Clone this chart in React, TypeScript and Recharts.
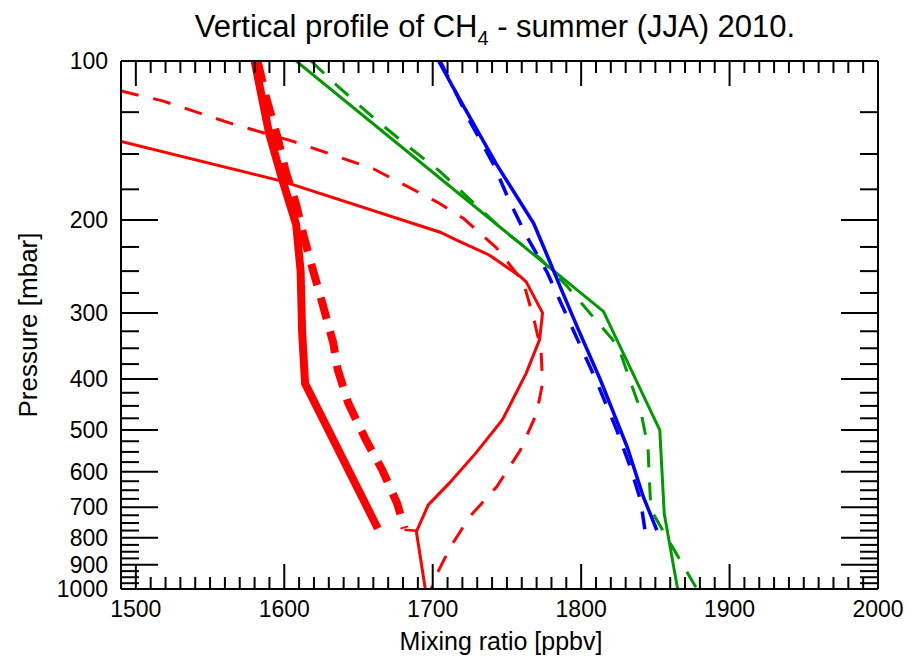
import { LineChart, Line, XAxis, YAxis } from 'recharts'

const FONT = '"Liberation Sans", Arial, Helvetica, sans-serif'
const RED = '#ff0000'
const GREEN = '#009a00'
const BLUE = '#0000ff'

// mixing ratio [ppbv] (x) against pressure [mbar] (p)
const thickSolidP = [100, 138, 169, 204, 250, 325, 408, 768]
const thickSolidX = [1580, 1590, 1599, 1608, 1611, 1612, 1614, 1663]

const thickDashP = [100, 118, 138, 162, 187, 214, 247, 290, 342, 384, 444, 522, 595, 688, 768]
const thickDashX = [1582, 1588, 1595, 1601, 1608, 1613, 1619, 1626, 1633, 1636, 1643, 1655, 1666, 1676, 1681]

const bridgeP = [772, 776]
const bridgeX = [1681, 1689]

const thinSolidP = [142, 169, 211, 217, 233, 256, 262, 300, 337, 390, 478, 553, 631, 693, 779, 1000]
const thinSolidX = [1490, 1599, 1705, 1714, 1738, 1759, 1763, 1774, 1772, 1763, 1747, 1729, 1711, 1697, 1689, 1695]

const thinDashP = [114, 119, 131, 142, 160, 185, 199, 226, 262, 307, 353, 408, 465, 546, 641, 729, 832, 934, 1000]
const thinDashX = [1490, 1518, 1563, 1606, 1660, 1703, 1721, 1743, 1761, 1768, 1773, 1774, 1770, 1759, 1743, 1725, 1712, 1703, 1699]

const blueSolidP = [100, 118, 157, 203, 233, 268, 322, 402, 538, 670, 774]
const blueSolidX = [1704, 1718, 1743, 1768, 1777, 1786, 1798, 1813, 1831, 1842, 1851]

const blueDashP = [100, 130, 157, 185, 214, 251, 294, 402, 500, 586, 679, 774]
const blueDashX = [1705, 1725, 1741, 1752, 1763, 1777, 1788, 1810, 1824, 1833, 1840, 1843]

const greenSolidP = [100, 298, 500, 720, 1000]
const greenSolidX = [1608, 1815, 1853, 1856, 1865]

const greenDashP = [100, 111, 128, 144, 162, 185, 211, 236, 266, 347, 396, 458, 538, 622, 708, 1000]
const greenDashX = [1618, 1635, 1660, 1682, 1705, 1727, 1749, 1772, 1790, 1825, 1832, 1840, 1845, 1846, 1847, 1878]

const xMajor = [1500, 1600, 1700, 1800, 1900, 2000]
const yMajor = [100, 200, 300, 400, 500, 600, 700, 800, 900, 1000]

const xTicks: number[] = []
xMajor.forEach((v, i) => {
  xTicks.push(v)
  if (i < xMajor.length - 1) for (let k = 1; k < 10; k++) xTicks.push(v + k * 10)
})
const yTicks: number[] = []
yMajor.forEach((v, i) => {
  yTicks.push(v)
  if (i < yMajor.length - 1) for (let k = 1; k < 4; k++) yTicks.push(v + k * 25)
})

const rows = (xs: number[], ps: number[]) => xs.map((x, i) => ({ x, p: ps[i] }))

const isMajor = (v: number) => Math.abs(v % 100) < 1e-6

const bottomTick = ({ x, y, payload }: any) => {
  const major = isMajor(payload.value)
  return (
    <g>
      <line x1={x} y1={y} x2={x} y2={y - (major ? 25 : 12)} stroke="#000" strokeWidth={2} />
      {major && (
        <text x={x} y={y + 20} textAnchor="middle" dominantBaseline="central" fontSize={23} fontFamily={FONT} fill="#000">
          {payload.value}
        </text>
      )}
    </g>
  )
}

const topTick = ({ x, y, payload }: any) => {
  const major = isMajor(payload.value)
  return <line x1={x} y1={y} x2={x} y2={y + (major ? 25 : 12)} stroke="#000" strokeWidth={2} />
}

const leftTick = ({ x, y, payload }: any) => {
  const major = isMajor(payload.value)
  return (
    <g>
      <line x1={x} y1={y} x2={x + (major ? 37 : 18)} y2={y} stroke="#000" strokeWidth={2} />
      {major && (
        <text x={x - 13} y={y} textAnchor="end" dominantBaseline="central" fontSize={23} fontFamily={FONT} fill="#000">
          {payload.value}
        </text>
      )}
    </g>
  )
}

const rightTick = ({ x, y, payload }: any) => {
  const major = isMajor(payload.value)
  return <line x1={x} y1={y} x2={x - (major ? 37 : 18)} y2={y} stroke="#000" strokeWidth={2} />
}

const axisLine = { stroke: '#000', strokeWidth: 2 }

export default function App() {
  return (
    <div style={{ position: 'absolute', left: 0, top: 0, width: 910, height: 660, background: '#fff' }}>
      <LineChart width={910} height={660} margin={{ top: 51, right: 22, bottom: 21, left: 61 }}>
        <XAxis
          xAxisId="b"
          type="number"
          dataKey="x"
          domain={[1490, 2000]}
          allowDataOverflow
          ticks={xTicks}
          interval={0}
          tick={bottomTick}
          tickLine={false}
          tickSize={0}
          tickMargin={0}
          axisLine={axisLine}
          height={50}
        />
        <XAxis
          xAxisId="t"
          orientation="top"
          type="number"
          dataKey="x"
          domain={[1490, 2000]}
          allowDataOverflow
          ticks={xTicks}
          interval={0}
          tick={topTick}
          tickLine={false}
          tickSize={0}
          tickMargin={0}
          axisLine={axisLine}
          height={10}
        />
        <YAxis
          yAxisId="l"
          type="number"
          scale="log"
          domain={[100, 1000]}
          reversed
          allowDataOverflow
          ticks={yTicks}
          interval={0}
          tick={leftTick}
          tickLine={false}
          tickSize={0}
          tickMargin={0}
          axisLine={axisLine}
          width={60}
        />
        <YAxis
          yAxisId="r"
          orientation="right"
          type="number"
          scale="log"
          domain={[100, 1000]}
          reversed
          allowDataOverflow
          ticks={yTicks}
          interval={0}
          tick={rightTick}
          tickLine={false}
          tickSize={0}
          tickMargin={0}
          axisLine={axisLine}
          width={10}
        />
        {/* keeps the mirrored top/right axes bound to data */}
        <Line xAxisId="t" yAxisId="r" data={rows(greenSolidX, greenSolidP)} dataKey="p" stroke="none" dot={false} isAnimationActive={false} />

        <Line xAxisId="b" yAxisId="l" data={rows(thickSolidX, thickSolidP)} dataKey="p" stroke={RED} strokeWidth={8} dot={false} isAnimationActive={false} />
        <Line xAxisId="b" yAxisId="l" data={rows(thickDashX, thickDashP)} dataKey="p" stroke={RED} strokeWidth={8} strokeDasharray="22 13" dot={false} isAnimationActive={false} />
        <Line xAxisId="b" yAxisId="l" data={rows(bridgeX, bridgeP)} dataKey="p" stroke={RED} strokeWidth={2.5} dot={false} isAnimationActive={false} />
        <Line xAxisId="b" yAxisId="l" data={rows(thinSolidX, thinSolidP)} dataKey="p" stroke={RED} strokeWidth={3} dot={false} isAnimationActive={false} />
        <Line xAxisId="b" yAxisId="l" data={rows(thinDashX, thinDashP)} dataKey="p" stroke={RED} strokeWidth={3} strokeDasharray="18 15" dot={false} isAnimationActive={false} />
        <Line xAxisId="b" yAxisId="l" data={rows(greenSolidX, greenSolidP)} dataKey="p" stroke={GREEN} strokeWidth={3} dot={false} isAnimationActive={false} />
        <Line xAxisId="b" yAxisId="l" data={rows(greenDashX, greenDashP)} dataKey="p" stroke={GREEN} strokeWidth={3} strokeDasharray="18 15" dot={false} isAnimationActive={false} />
        <Line xAxisId="b" yAxisId="l" data={rows(blueSolidX, blueSolidP)} dataKey="p" stroke={BLUE} strokeWidth={3.5} dot={false} isAnimationActive={false} />
        <Line xAxisId="b" yAxisId="l" data={rows(blueDashX, blueDashP)} dataKey="p" stroke={BLUE} strokeWidth={3.5} strokeDasharray="18 15" dot={false} isAnimationActive={false} />
      </LineChart>

      <svg width={910} height={660} style={{ position: 'absolute', left: 0, top: 0, pointerEvents: 'none' }}>
        <text x={495} y={37} textAnchor="middle" fontSize={31} fontFamily={FONT} fill="#000">
          Vertical profile of CH
          <tspan fontSize={20} dy={8}>4</tspan>
          <tspan dy={-8}> - summer (JJA) 2010.</tspan>
        </text>
        <text x={501} y={650} textAnchor="middle" fontSize={25} fontFamily={FONT} fill="#000">
          Mixing ratio [ppbv]
        </text>
        <text x={37} y={325} textAnchor="middle" fontSize={26} fontFamily={FONT} fill="#000" transform="rotate(-90 37 325)">
          Pressure [mbar]
        </text>
      </svg>
    </div>
  )
}
